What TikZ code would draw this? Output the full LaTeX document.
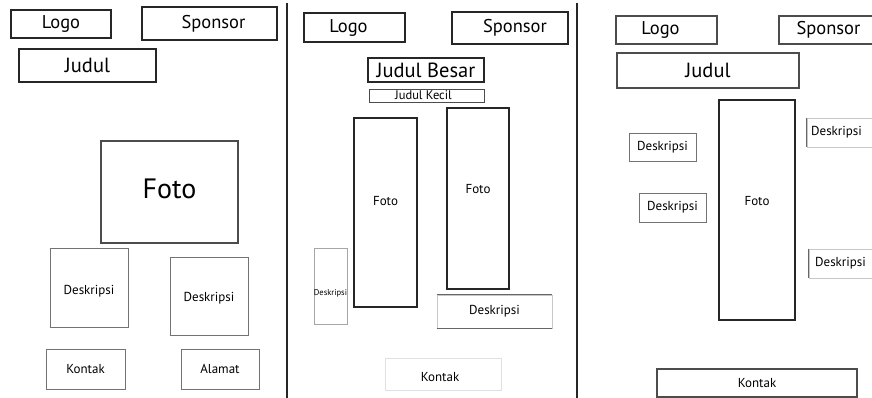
\documentclass[tikz,border=0pt]{standalone}
\usepackage{fontspec}
\setmainfont{PT Sans}
\newcommand{\fs}[1]{\fontsize{#1}{#1}\selectfont}
\begin{document}
\begin{tikzpicture}[x=1pt,y=-1pt,
  heavy/.style={draw=black!85, line width=1.4pt, inner sep=0pt, rectangle},
  mid/.style={draw=black!70, line width=1.1pt, inner sep=0pt, rectangle},
  thinbox/.style={draw=black!55, line width=0.9pt, inner sep=0pt, rectangle},
  faintbox/.style={draw=black!22, line width=0.8pt, inner sep=0pt, rectangle},
  divider/.style={draw=black!85, line width=1.5pt},
  big/.style={font=\fs{18.5}},
  title/.style={font=\fs{20.5}},
  small/.style={font=\fs{13}}]
\useasboundingbox (0,0) rectangle (872,398);
\clip (0,0) rectangle (872,398);
\fill[white] (0,0) rectangle (872,398);

% dividers
\coordinate (d1t) at (287,3); \coordinate (d1b) at (287,398);
\coordinate (d2t) at (577,3); \coordinate (d2b) at (577,398);
\draw[divider] (d1t) -- (d1b);
\draw[divider] (d2t) -- (d2b);

% panel 1
\node[heavy, big, minimum width=100, minimum height=28] (logoA) at (61,24) {Logo};
\node[heavy, big, minimum width=135, minimum height=33] (sponA) at (209.5,23.5) {\hspace*{8pt}Sponsor};
\node[heavy, title, minimum width=137, minimum height=33] (judA) at (87.5,65.5) {Judul};
\node[mid, minimum width=137, minimum height=102,
      label={[font=\fs{28}, yshift=3pt]center:Foto}] (fotoA) at (169.5,192) {};
\node[thinbox, minimum width=78, minimum height=79,
      label={[small, yshift=-4pt]center:Deskripsi}] (desA1) at (89,287.5) {};
\node[thinbox, minimum width=78, minimum height=78,
      label={[small, yshift=-2pt]center:Deskripsi}] (desA2) at (209,296) {};
\node[thinbox, small, minimum width=79, minimum height=40] (konA) at (85.5,369) {Kontak};
\node[thinbox, small, minimum width=78, minimum height=40] (alaA) at (220,369) {Alamat};

% panel 2
\node[heavy, big, minimum width=101, minimum height=29] (logoB) at (354.5,27.5) {Logo\hspace*{12pt}};
\node[heavy, big, minimum width=116, minimum height=32] (sponB) at (510,28) {\hspace*{10pt}Sponsor};
\node[heavy, title, minimum width=116, minimum height=24] (jbB) at (426,70) {Judul Besar};
\node[mid, line width=0.9pt, font=\fs{12.5}, minimum width=115, minimum height=13] (jkB) at (426.5,95.5) {\hspace*{-6pt}Judul Kecil};
\node[heavy, minimum width=63, minimum height=189,
      label={[small, yshift=11pt]center:Foto}] (fotoB1) at (385.5,212.5) {};
\node[heavy, minimum width=62, minimum height=181,
      label={[small, yshift=9.5pt]center:Foto}] (fotoB2) at (478,198.5) {};
\node[faintbox, draw=black!35, minimum width=33, minimum height=76,
      label={[font=\fs{8.5}, yshift=-7pt]center:Deskripsi}] (desB1) at (330.5,286) {};
\node[faintbox, small, minimum width=115, minimum height=33] (desB2) at (494.5,311.5) {Deskripsi};
\draw[black!60, line width=0.9pt] (desB2.north west) -- (desB2.north east);
\draw[black!60, line width=0.9pt] (desB2.south west) -- (desB2.south east);
\node[faintbox, draw=black!12, minimum width=116, minimum height=32,
      label={[small, yshift=-3pt, xshift=-3pt]center:Kontak}] (konB) at (443,374) {};

% panel 3
\node[mid, big, minimum width=101, minimum height=28] (logoC) at (666.5,30) {Logo\hspace*{12pt}};
\node[mid, big, minimum width=99, minimum height=28] (sponC) at (828.5,30) {Sponsor};
\node[mid, title, minimum width=182, minimum height=35] (judC) at (708,70.5) {Judul};
\node[heavy, minimum width=76, minimum height=220,
      label={[small, yshift=9pt]center:Foto}] (fotoC) at (757,210) {};
\node[thinbox, small, minimum width=67, minimum height=28] (desC1) at (662.5,147) {Deskripsi};
\node[thinbox, small, minimum width=67, minimum height=29] (desC2) at (672.5,207.5) {Deskripsi};
\node[faintbox, minimum width=73, minimum height=29,
      label={[small, anchor=west, xshift=1pt]west:Deskripsi}] (desC3) at (843.5,132.5) {};
\draw[black!60, line width=0.9pt] (desC3.north west) -- (desC3.south west);
\node[faintbox, minimum width=71, minimum height=29,
      label={[small, anchor=west, xshift=3pt]west:Deskripsi}] (desC4) at (844.5,263.5) {};
\draw[black!60, line width=0.9pt] (desC4.north west) -- (desC4.south west);
\node[mid, small, minimum width=200, minimum height=28] (konC) at (757,383) {Kontak};
\end{tikzpicture}
\end{document}
